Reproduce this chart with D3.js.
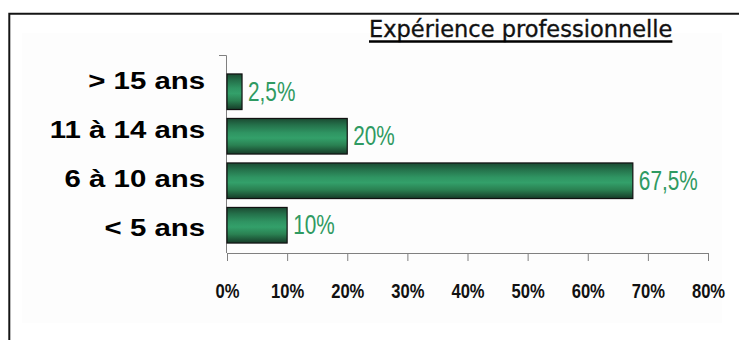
<!DOCTYPE html>
<html>
<head>
<meta charset="utf-8">
<script src="https://cdn.jsdelivr.net/npm/d3@7"></script>
<style>
  html, body { margin: 0; padding: 0; background: #fff; }
  svg { display: block; }
</style>
</head>
<body>
<svg id="chart" width="739" height="340"></svg>
<script>
// data
const categories = ["> 15 ans", "11 à 14 ans", "6 à 10 ans", "< 5 ans"];
const values = [2.5, 20, 67.5, 10];
const xTicks = [0, 10, 20, 30, 40, 50, 60, 70, 80];
const title = "Expérience professionnelle";

const svg = d3.select("#chart");
const pct = v => String(v).replace(".", ",") + "%";

// frame and plot background
svg.append("rect")
  .attr("x", 22).attr("y", 33)
  .attr("width", 700).attr("height", 290)
  .attr("fill", "#fdfdfd");
svg.append("path")
  .attr("d", "M9.3,340 V13.7 H739")
  .attr("fill", "none")
  .attr("stroke", "#151515")
  .attr("stroke-width", 2);

// title, underlined
const t = svg.append("text")
  .attr("x", 369).attr("y", 37)
  .style("font", "22.5px 'DejaVu Sans', Verdana, sans-serif")
  .attr("fill", "#111")
  .attr("stroke", "#111")
  .attr("stroke-width", 0.35)
  .text(title);
const tw = t.node().getComputedTextLength();
svg.append("line")
  .attr("x1", 369).attr("x2", 369 + tw)
  .attr("y1", 41.5).attr("y2", 41.5)
  .attr("stroke", "#000")
  .attr("stroke-width", 2.5);

// scales
const x = d3.scaleLinear().domain([0, 80]).range([227, 708]);
const yLabel = d3.scaleBand().domain(categories).range([55.5, 252.5]);
const yBar = d3.scaleBand().domain(categories).range([69.5, 247.5])
  .paddingInner(0.2).paddingOuter(0.1);

// gradient for bars
const grad = svg.append("defs").append("linearGradient")
  .attr("id", "barGrad")
  .attr("x1", 0).attr("y1", 0).attr("x2", 0).attr("y2", 1);
[[0, "#1b4a32"], [0.18, "#24704a"], [0.4, "#2f9462"], [0.55, "#33a06a"],
 [0.75, "#2a8152"], [1, "#163b28"]].forEach(([o, c]) => {
  grad.append("stop").attr("offset", o).attr("stop-color", c);
});

// x axis
const xAxis = svg.append("g")
  .attr("transform", "translate(0,253)")
  .call(d3.axisBottom(x).tickValues(xTicks).tickSize(8).tickSizeOuter(0)
    .tickFormat(d => d + "%"));
xAxis.select(".domain").attr("stroke", "#808080");
xAxis.selectAll(".tick line").attr("stroke", "#808080");
xAxis.selectAll(".tick text")
  .attr("y", 0).attr("dy", 0)
  .attr("transform", "translate(0,45) scale(0.79,1)")
  .attr("fill", "#111")
  .style("font", "bold 21px 'Liberation Sans', Arial, sans-serif");

// y axis line
svg.append("path")
  .attr("d", `M219,${yLabel.range()[0]} H226.5 V253`)
  .attr("fill", "none")
  .attr("stroke", "#808080");

// bars
svg.selectAll("rect.bar")
  .data(values)
  .join("rect")
  .attr("class", "bar")
  .attr("x", x(0))
  .attr("y", (d, i) => yBar(categories[i]))
  .attr("width", d => x(d) - x(0))
  .attr("height", yBar.bandwidth())
  .attr("fill", "url(#barGrad)")
  .attr("stroke", "#111")
  .attr("stroke-width", 1.2);

// value labels
svg.selectAll("text.val")
  .data(values)
  .join("text")
  .attr("class", "val")
  .attr("transform", (d, i) =>
    `translate(${x(d) + 6},${yBar(categories[i]) + yBar.bandwidth() / 2 + 9}) scale(0.77,1)`)
  .attr("fill", "#2f9a62")
  .style("font", "27px 'Liberation Sans', Arial, sans-serif")
  .text(pct);

// category labels
svg.selectAll("g.cat")
  .data(categories)
  .join("g")
  .attr("class", "cat")
  .attr("transform", d => `translate(205,${yLabel(d) + yLabel.bandwidth() / 2 + 8.5}) scale(1.25,1)`)
  .append("text")
  .attr("text-anchor", "end")
  .attr("fill", "#000")
  .style("font", "bold 23.5px 'Liberation Sans', Arial, sans-serif")
  .text(d => d);
</script>
</body>
</html>
